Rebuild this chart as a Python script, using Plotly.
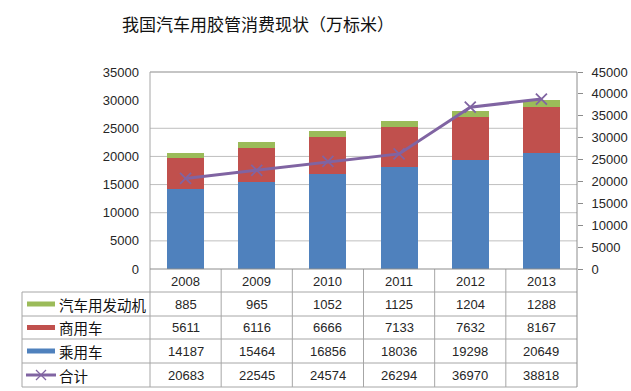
import plotly.graph_objects as go

years = ["2008", "2009", "2010", "2011", "2012", "2013"]
engine = [885, 965, 1052, 1125, 1204, 1288]          # 汽车用发动机
commercial = [5611, 6116, 6666, 7133, 7632, 8167]    # 商用车
passenger = [14187, 15464, 16856, 18036, 19298, 20649]  # 乘用车
total = [20683, 22545, 24574, 26294, 36970, 38818]   # 合计

series_names = ["汽车用发动机", "商用车", "乘用车", "合计"]
left_ticks = [0, 5000, 10000, 15000, 20000, 25000, 30000, 35000]
right_ticks = [0, 5000, 10000, 15000, 20000, 25000, 30000, 35000, 40000, 45000]
grid_vals = [5000, 10000, 15000, 20000, 25000]

BLUE = "#4F81BD"
RED = "#C0504D"
GREEN = "#9BBB59"
PURPLE = "#8064A2"

W, H = 631, 391
L, R, T, B = 150, 577, 72, 269


def px(X):
    return (X - L) / (R - L)


def py(Y):
    return (B - Y) / (B - T)


fig = go.Figure()
fig.add_bar(x=years, y=passenger, name=series_names[2], marker_color=BLUE,
            width=0.52, marker_line_width=0)
fig.add_bar(x=years, y=commercial, name=series_names[1], marker_color=RED,
            width=0.52, marker_line_width=0)
fig.add_bar(x=years, y=engine, name=series_names[0], marker_color=GREEN,
            width=0.52, marker_line_width=0)
fig.add_scatter(x=years, y=total, name=series_names[3], yaxis="y2",
                mode="lines+markers",
                line=dict(color=PURPLE, width=3),
                marker=dict(symbol="x-thin", size=11,
                            line=dict(color=PURPLE, width=1.8)))

tick_font = dict(family="Liberation Sans, Arial, sans-serif", size=13, color="#262626")
cjk_font = dict(family="Noto Sans CJK SC, sans-serif", size=14.5, color="#111111")

shapes = []
GRID = "#BFBFBF"
TLINE = "#A6A6A6"
for v in grid_vals:
    shapes.append(dict(type="line", xref="paper", yref="y", x0=0, x1=1, y0=v, y1=v,
                       line=dict(color=GRID, width=1), layer="below"))
# plot top border
shapes.append(dict(type="line", xref="paper", yref="paper", x0=0, x1=1, y0=1, y1=1,
                   line=dict(color="#8C8C8C", width=1.2)))
# table horizontal lines
row_lines = [292, 316, 339, 363, 387]
for Y in row_lines:
    shapes.append(dict(type="line", xref="paper", yref="paper", x0=px(22), x1=1,
                       y0=py(Y), y1=py(Y), line=dict(color=TLINE, width=1)))
# table vertical lines
shapes.append(dict(type="line", xref="paper", yref="paper", x0=px(22), x1=px(22),
                   y0=py(292), y1=py(387), line=dict(color=TLINE, width=1)))
shapes.append(dict(type="line", xref="paper", yref="paper", x0=0, x1=0,
                   y0=1, y1=py(387), line=dict(color=TLINE, width=1)))
shapes.append(dict(type="line", xref="paper", yref="paper", x0=1, x1=1,
                   y0=1, y1=py(387), line=dict(color="#8C8C8C", width=1)))
for i in range(len(years) - 1):
    shapes.append(dict(type="line", xref="x", yref="paper", x0=i + 0.5, x1=i + 0.5,
                       y0=0, y1=py(387), line=dict(color=TLINE, width=1)))
# x axis line
shapes.append(dict(type="line", xref="paper", yref="paper", x0=0, x1=1, y0=0, y1=0,
                   line=dict(color="#8C8C8C", width=1)))

row_centers = [304, 327.5, 351, 375]
swatch_colors = [GREEN, RED, BLUE]
for c, Y in zip(swatch_colors, row_centers[:3]):
    shapes.append(dict(type="rect", xref="paper", yref="paper", x0=px(27), x1=px(55),
                       y0=py(Y + 2.5), y1=py(Y - 2.5), fillcolor=c, line_width=0))
# 合计 legend swatch: line with x marker
Yl = row_centers[3]
shapes.append(dict(type="line", xref="paper", yref="paper", x0=px(26), x1=px(56),
                   y0=py(Yl), y1=py(Yl), line=dict(color=PURPLE, width=3)))
for d in (1, -1):
    shapes.append(dict(type="line", xref="paper", yref="paper", x0=px(36), x1=px(46),
                       y0=py(Yl - 5 * d), y1=py(Yl + 5 * d),
                       line=dict(color=PURPLE, width=1.2)))

annotations = []
for name, Y in zip(series_names, row_centers):
    annotations.append(dict(text=name, xref="paper", yref="paper", x=px(57), y=py(Y),
                            xanchor="left", yanchor="middle", showarrow=False,
                            font=cjk_font))
table_rows = [engine, commercial, passenger, total]
for vals, Y in zip(table_rows, row_centers):
    for i, v in enumerate(vals):
        annotations.append(dict(text=str(v), xref="x", yref="paper", x=i, y=py(Y),
                                xanchor="center", yanchor="middle", showarrow=False,
                                font=tick_font))
for i, yr in enumerate(years):
    annotations.append(dict(text=yr, xref="x", yref="paper", x=i, y=py(281),
                            xanchor="center", yanchor="middle", showarrow=False,
                            font=tick_font))

fig.update_layout(
    width=W, height=H,
    margin=dict(l=L, r=W - R, t=T, b=H - B, autoexpand=False),
    paper_bgcolor="white", plot_bgcolor="white",
    barmode="stack",
    showlegend=False,
    title=dict(text="我国汽车用胶管消费现状（万标米）", x=258 / W, xanchor="center",
               y=1 - 25 / H, yanchor="middle",
               font=dict(family="Noto Sans CJK SC, sans-serif", size=17, color="#111111")),
    xaxis=dict(type="category", range=[-0.5, 5.5], showticklabels=False, ticks="",
               showgrid=False, showline=False, zeroline=False),
    yaxis=dict(range=[0, 35000], tickvals=left_ticks,
               ticktext=[str(v) for v in left_ticks],
               showgrid=False, zeroline=False,
               showline=False, ticks="", tickfont=tick_font, ticklabelstandoff=10),
    yaxis2=dict(range=[0, 45000], tickvals=right_ticks,
                ticktext=[str(v) for v in right_ticks],
                overlaying="y", side="right",
                showgrid=False, zeroline=False, showline=False, ticks="outside",
                ticklen=5, tickcolor="#8C8C8C", tickfont=tick_font,
                ticklabelstandoff=6),
    shapes=shapes,
    annotations=annotations,
)

fig.write_html("out.html", config={"displayModeBar": False},
               post_script="document.body.style.margin='0';document.body.style.padding='0';")
